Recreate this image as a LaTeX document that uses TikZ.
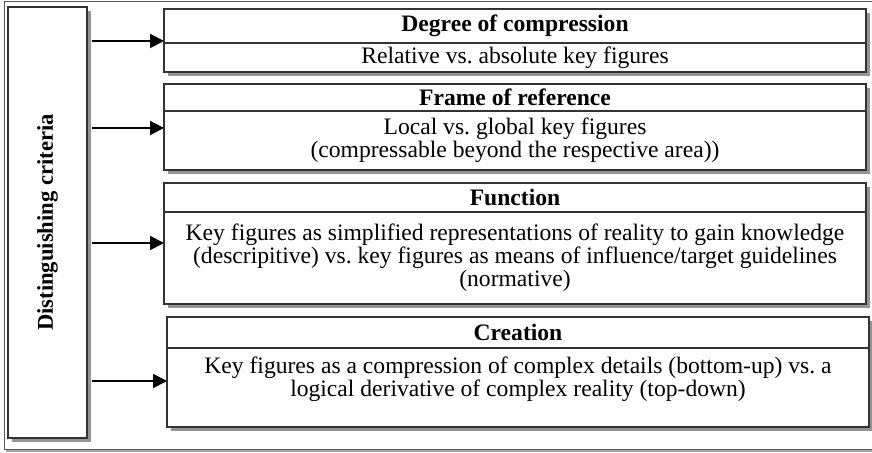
\documentclass[tikz,border=0pt]{standalone}
\usepackage{fontspec}
\setmainfont{Liberation Serif}
\usetikzlibrary{arrows.meta, positioning, shadows}

\newcommand{\boxfont}{\fontsize{11.8}{11.5}\selectfont}
\tikzset{
  frame/.style={draw=black!80, line width=0.7pt, fill=white, outer sep=0pt,
    drop shadow={shadow xshift=2.2pt, shadow yshift=-2.2pt, fill=black!42, opacity=1}},
  head/.style={frame, minimum width=351pt, inner sep=0pt, anchor=north west, font=\boxfont\bfseries},
  body/.style={frame, minimum width=351pt, inner sep=0pt, anchor=north west, align=center, font=\boxfont},
  link/.style={-{Triangle[length=7pt,width=7pt]}, line width=1pt},
}

\begin{document}
\begin{tikzpicture}[x=0.5pt, y=-0.5pt]
  \useasboundingbox (0,0) rectangle (872,453);

  % outer frame
  \draw[draw=black!65, line width=0.5pt, fill=white,
    drop shadow={shadow xshift=1pt, shadow yshift=-1pt, fill=black!35, opacity=1}]
    (4,2) rectangle (900,450);

  % criteria
  \node[frame, minimum width=39.5pt, minimum height=215.5pt, inner sep=0pt, anchor=north west,
    font=\fontsize{11.3}{11.5}\selectfont\bfseries]
    (crit) at (8,7) {\rotatebox{90}{Distinguishing criteria}};

  % box 1
  \node[head, minimum height=17pt] (h1) at (164,9) {Degree of compression};
  \node[body, minimum height=14.5pt] (b1) at (h1.south west) {Relative vs.\ absolute key figures};

  % box 2
  \node[head, minimum height=13.5pt] (h2) at (164,84) {Frame of reference};
  \node[body, minimum height=29.5pt] (b2) at (h2.south west)
    {Local vs.\ global key figures\\(compressable beyond the respective area))};

  % box 3
  \node[head, minimum height=14.5pt] (h3) at (164,183) {Function};
  \node[body, minimum height=46pt, text depth=3pt] (b3) at (h3.south west)
    {Key figures as simplified representations of reality to gain knowledge\\
     (descripitive) vs.\ key figures as means of influence/target guidelines\\
     (normative)};

  % box 4
  \node[head, minimum height=15.5pt] (h4) at (167,317) {Creation};
  \node[body, minimum height=39.5pt, text depth=10.5pt] (b4) at (h4.south west)
    {Key figures as a compression of complex details (bottom-up) vs.\ a\\
     logical derivative of complex reality (top-down)};

  % arrows
  \coordinate (t1) at (164,41);
  \coordinate (t2) at (164,128);
  \coordinate (t3) at (164,243);
  \coordinate (t4) at (167,381);
  \foreach \t in {t1,t2,t3,t4}
    \draw[link] ([xshift=2.5pt]crit.east |- \t) -- (\t);
\end{tikzpicture}
\end{document}
